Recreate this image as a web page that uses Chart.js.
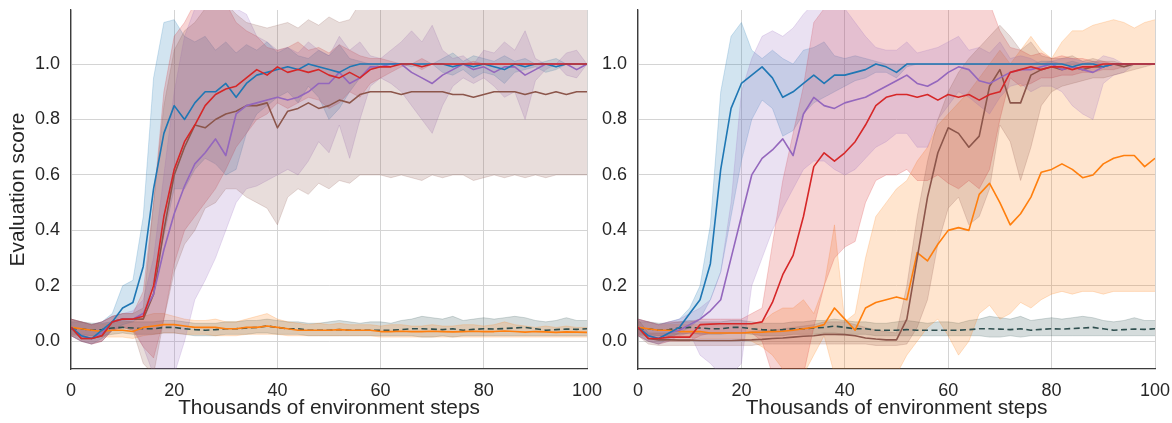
<!DOCTYPE html>
<html>
<head>
<meta charset="utf-8">
<script src="https://cdn.jsdelivr.net/npm/chart.js@4.4.1/dist/chart.umd.min.js"></script>
<style>
  body { margin: 0; background: #fff; width: 1172px; height: 423px; position: relative; overflow: hidden; }
  .panel { position: absolute; top: 0; height: 423px; }
  #left { left: 0; width: 612px; }
  #right { left: 590px; width: 582px; }
</style>
</head>
<body>
<div class="panel" id="left"><canvas id="chartLeft" width="612" height="423"></canvas></div>
<div class="panel" id="right"><canvas id="chartRight" width="582" height="423"></canvas></div>
<script>
// x positions (thousands of environment steps)
const STEPS = [
  0, 2, 4, 6, 8, 10, 12, 14, 16, 18,
  20, 22, 24, 26, 28, 30, 32, 34, 36, 38,
  40, 42, 44, 46, 48, 50, 52, 54, 56, 58,
  60, 62, 64, 66, 68, 70, 72, 74, 76, 78,
  80, 82, 84, 86, 88, 90, 92, 94, 96, 98,
  100];
const X_TICKS = [0, 20, 40, 60, 80, 100];
const Y_TICKS = [0.0, 0.2, 0.4, 0.6, 0.8, 1.0];

// dashed baseline, same in both panels
const BASE = [
  0.045,0.045,0.040,0.042,0.048,0.050,0.048,0.045,0.045,0.050,
  0.050,0.045,0.042,0.040,0.042,0.045,0.045,0.048,0.050,0.055,
  0.050,0.045,0.045,0.040,0.040,0.040,0.042,0.040,0.040,0.040,
  0.040,0.040,0.042,0.045,0.045,0.044,0.042,0.045,0.040,0.043,
  0.045,0.044,0.046,0.048,0.050,0.045,0.040,0.042,0.044,0.043,
  0.045];
const BASE_LO = [
  0.025,0.025,0.020,0.020,0.025,0.030,0.025,0.025,0.025,0.030,
  0.030,0.025,0.020,0.020,0.020,0.025,0.025,0.025,0.030,0.030,
  0.025,0.025,0.025,0.020,0.020,0.020,0.020,0.020,0.020,0.020,
  0.020,0.020,0.020,0.020,0.015,0.015,0.020,0.015,0.020,0.020,
  0.020,0.020,0.020,0.020,0.020,0.020,0.020,0.020,0.020,0.020,
  0.020];
const BASE_HI = [
  0.070,0.070,0.065,0.065,0.070,0.075,0.070,0.070,0.070,0.075,
  0.075,0.070,0.065,0.065,0.065,0.070,0.070,0.075,0.075,0.080,
  0.075,0.070,0.070,0.065,0.065,0.070,0.075,0.070,0.065,0.070,
  0.070,0.065,0.075,0.080,0.090,0.085,0.080,0.090,0.075,0.080,
  0.085,0.080,0.085,0.090,0.085,0.075,0.070,0.075,0.085,0.075,
  0.075];

// ---- left panel ----
const L_BLUE = [
  0.05,0.02,0.01,0.04,0.07,0.12,0.14,0.27,0.55,0.75,
  0.85,0.80,0.86,0.90,0.90,0.93,0.88,0.93,0.96,0.97,
  0.98,0.99,0.98,1.00,0.99,0.98,0.97,0.99,1.00,1.00,
  1.00,1.00,1.00,1.00,1.00,1.00,1.00,0.99,1.00,0.99,
  1.00,0.99,0.98,1.00,0.99,1.00,1.00,0.99,1.00,1.00,
  1.00];
const L_BLUE_LO = [
  0.02,0.00,-0.01,0.01,0.04,0.06,0.07,0.10,0.22,0.38,
  0.55,0.55,0.62,0.66,0.64,0.60,0.62,0.75,0.82,0.85,
  0.88,0.90,0.86,0.92,0.88,0.80,0.84,0.90,0.95,0.98,
  1.00,1.00,1.00,0.99,1.00,1.00,0.97,0.96,0.98,0.95,
  0.97,0.96,0.93,0.97,0.98,0.99,0.97,0.98,1.00,1.00,
  1.00];
const L_BLUE_HI = [
  0.08,0.07,0.06,0.07,0.10,0.20,0.22,0.45,0.95,1.15,
  1.16,1.10,1.08,1.10,1.05,1.08,1.04,1.07,1.05,1.08,
  1.04,1.06,1.03,1.02,1.05,1.03,1.07,1.02,1.01,1.00,
  1.00,1.00,1.00,1.00,1.00,1.00,1.02,1.04,1.01,1.03,
  1.02,1.01,1.03,1.01,1.02,1.00,1.01,1.02,1.00,1.00,
  1.00];

const L_RED = [
  0.05,0.01,0.01,0.02,0.07,0.08,0.08,0.09,0.20,0.45,
  0.62,0.72,0.78,0.85,0.89,0.91,0.92,0.95,0.98,0.96,
  0.99,0.97,0.98,0.97,0.98,0.96,0.95,0.97,0.95,0.98,
  0.99,0.99,1.00,1.00,0.99,1.00,1.00,1.00,1.00,1.00,
  1.00,1.00,1.00,1.00,1.00,1.00,1.00,1.00,1.00,1.00,
  1.00];
const L_RED_LO = [
  0.02,0.00,-0.01,0.00,0.04,0.05,0.04,-0.02,-0.06,0.08,
  0.28,0.40,0.45,0.50,0.55,0.62,0.70,0.75,0.80,0.82,
  0.86,0.84,0.86,0.88,0.87,0.84,0.86,0.90,0.88,0.93,
  0.95,0.97,0.99,1.00,0.98,1.00,1.00,1.00,1.00,1.00,
  1.00,1.00,1.00,1.00,1.00,1.00,1.00,1.00,1.00,1.00,
  1.00];
const L_RED_HI = [
  0.08,0.07,0.06,0.07,0.09,0.10,0.10,0.18,0.50,0.90,
  1.10,1.15,1.22,1.22,1.20,1.22,1.15,1.12,1.10,1.06,
  1.05,1.06,1.08,1.05,1.06,1.04,1.07,1.05,1.03,1.02,
  1.02,1.01,1.00,1.00,1.02,1.00,1.00,1.00,1.00,1.01,
  1.00,1.00,1.00,1.00,1.00,1.00,1.00,1.00,1.00,1.00,
  1.00];

const L_PURPLE = [
  0.05,0.02,0.01,0.03,0.07,0.08,0.08,0.10,0.17,0.33,
  0.46,0.56,0.64,0.68,0.73,0.67,0.82,0.85,0.86,0.87,
  0.88,0.87,0.88,0.90,0.93,0.93,0.97,0.93,0.95,0.99,
  0.99,1.00,1.00,0.97,0.95,0.93,0.96,0.98,1.00,0.98,
  0.99,0.97,0.99,0.99,0.96,0.98,1.00,1.00,1.00,0.98,
  1.00];
const L_PURPLE_LO = [
  0.02,0.00,-0.01,0.00,0.04,0.05,0.05,-0.02,-0.12,-0.15,
  -0.12,0.00,0.15,0.22,0.30,0.40,0.50,0.55,0.56,0.58,
  0.60,0.62,0.60,0.65,0.72,0.68,0.78,0.66,0.80,0.92,
  0.95,0.93,0.90,0.85,0.80,0.75,0.85,0.92,0.95,0.93,
  0.95,0.92,0.88,0.90,0.80,0.94,0.98,1.00,0.96,0.95,
  1.00];
const L_PURPLE_HI = [
  0.08,0.07,0.06,0.07,0.09,0.10,0.11,0.15,0.30,0.60,
  0.90,1.10,1.20,1.22,1.22,1.22,1.20,1.18,1.10,1.08,
  1.05,1.06,1.04,1.08,1.05,1.03,1.10,1.05,1.08,1.03,
  1.02,1.05,1.08,1.12,1.08,1.14,1.05,1.02,1.03,1.00,
  1.05,1.04,1.08,1.05,1.12,1.02,1.00,1.00,1.04,1.05,
  1.00];

const L_BROWN = [
  0.05,0.01,0.01,0.02,0.07,0.08,0.08,0.08,0.17,0.40,
  0.60,0.70,0.78,0.77,0.80,0.82,0.83,0.85,0.85,0.86,
  0.77,0.83,0.84,0.86,0.84,0.85,0.87,0.86,0.89,0.90,
  0.90,0.90,0.89,0.90,0.90,0.90,0.90,0.89,0.89,0.88,
  0.89,0.90,0.90,0.90,0.89,0.90,0.89,0.90,0.89,0.90,
  0.90];
const L_BROWN_LO = [
  0.02,0.00,-0.01,0.00,0.04,0.05,0.04,-0.08,-0.12,0.08,
  0.25,0.35,0.40,0.48,0.50,0.55,0.55,0.52,0.50,0.48,
  0.42,0.52,0.55,0.53,0.57,0.55,0.58,0.57,0.60,0.60,
  0.60,0.59,0.60,0.59,0.58,0.60,0.59,0.60,0.60,0.58,
  0.59,0.60,0.59,0.60,0.59,0.60,0.59,0.60,0.60,0.60,
  0.60];
const L_BROWN_HI = [
  0.08,0.07,0.06,0.07,0.09,0.10,0.10,0.12,0.50,0.85,
  1.05,1.12,1.15,1.20,1.22,1.22,1.18,1.15,1.14,1.13,
  1.14,1.15,1.13,1.16,1.14,1.17,1.15,1.16,1.22,1.25,
  1.25,1.25,1.25,1.25,1.25,1.25,1.25,1.25,1.25,1.25,
  1.25,1.25,1.25,1.25,1.25,1.25,1.25,1.25,1.25,1.25,
  1.25];

const L_ORANGE = [
  0.050,0.045,0.040,0.035,0.040,0.040,0.035,0.050,0.055,0.060,
  0.060,0.055,0.050,0.050,0.050,0.045,0.045,0.050,0.050,0.055,
  0.050,0.045,0.040,0.040,0.040,0.040,0.042,0.040,0.040,0.040,
  0.035,0.035,0.036,0.035,0.035,0.036,0.035,0.034,0.035,0.036,
  0.035,0.035,0.037,0.035,0.033,0.035,0.034,0.032,0.034,0.033,
  0.032];
const L_ORANGE_LO = [
  0.020,0.020,0.020,0.015,0.015,0.015,0.010,0.020,0.025,0.030,
  0.030,0.025,0.025,0.025,0.020,0.020,0.020,0.025,0.025,0.025,
  0.025,0.020,0.020,0.020,0.020,0.020,0.020,0.020,0.020,0.020,
  0.015,0.015,0.015,0.015,0.015,0.015,0.015,0.015,0.015,0.015,
  0.015,0.015,0.015,0.015,0.015,0.015,0.015,0.015,0.015,0.015,
  0.015];
const L_ORANGE_HI = [
  0.080,0.070,0.060,0.060,0.065,0.070,0.070,0.090,0.100,0.100,
  0.090,0.080,0.075,0.075,0.080,0.070,0.070,0.080,0.090,0.100,
  0.080,0.070,0.065,0.060,0.065,0.060,0.065,0.060,0.060,0.060,
  0.055,0.060,0.060,0.055,0.055,0.060,0.055,0.055,0.060,0.060,
  0.055,0.060,0.070,0.060,0.055,0.050,0.055,0.050,0.055,0.050,
  0.050];

// ---- right panel ----
const R_BLUE = [
  0.05,0.02,0.01,0.03,0.05,0.10,0.15,0.28,0.62,0.84,
  0.93,0.96,0.99,0.95,0.88,0.90,0.93,0.96,0.93,0.96,
  0.96,0.97,0.98,1.00,0.99,0.97,1.00,1.00,1.00,1.00,
  1.00,1.00,1.00,1.00,1.00,1.00,1.00,1.00,1.00,1.00,
  1.00,1.00,0.99,1.00,1.00,0.99,1.00,1.00,1.00,1.00,
  1.00];
const R_BLUE_LO = [
  0.02,0.00,-0.01,0.01,0.03,0.05,0.08,0.15,0.25,0.45,
  0.65,0.80,0.87,0.84,0.74,0.76,0.82,0.86,0.88,0.90,
  0.92,0.94,0.95,0.97,0.97,0.95,0.99,1.00,1.00,1.00,
  1.00,1.00,1.00,1.00,1.00,1.00,1.00,1.00,1.00,1.00,
  1.00,1.00,1.00,1.00,1.00,1.00,1.00,1.00,1.00,1.00,
  1.00];
const R_BLUE_HI = [
  0.08,0.07,0.06,0.07,0.08,0.12,0.20,0.42,0.90,1.10,
  1.15,1.05,1.02,1.05,1.02,1.00,1.05,1.06,1.08,1.03,
  1.02,1.03,1.02,1.01,1.00,1.00,1.00,1.00,1.00,1.00,
  1.00,1.00,1.00,1.00,1.00,1.00,1.00,1.00,1.00,1.01,
  1.01,1.00,1.01,1.00,1.01,1.00,1.00,1.00,1.00,1.00,
  1.00];

const R_PURPLE = [
  0.05,0.02,0.01,0.03,0.04,0.06,0.08,0.11,0.15,0.30,
  0.45,0.60,0.66,0.69,0.73,0.67,0.82,0.88,0.85,0.84,
  0.86,0.87,0.88,0.90,0.92,0.94,0.96,0.93,0.92,0.94,
  0.97,0.99,0.98,0.94,0.93,0.95,0.97,0.98,0.98,0.99,
  1.00,0.98,0.99,0.98,0.97,0.99,1.00,1.00,1.00,1.00,
  1.00];
const R_PURPLE_LO = [
  0.02,0.00,-0.01,0.00,0.02,0.03,-0.05,-0.08,-0.12,-0.12,
  -0.08,0.20,0.30,0.40,0.48,0.55,0.62,0.65,0.65,0.62,
  0.60,0.62,0.66,0.70,0.72,0.75,0.75,0.70,0.70,0.80,
  0.85,0.90,0.88,0.85,0.82,0.88,0.92,0.93,0.90,0.92,
  0.92,0.90,0.85,0.82,0.80,0.93,0.96,0.97,1.00,1.00,
  1.00];
const R_PURPLE_HI = [
  0.08,0.07,0.06,0.07,0.08,0.10,0.12,0.15,0.25,0.50,
  0.90,1.02,1.10,1.12,1.10,1.13,1.18,1.22,1.22,1.22,
  1.20,1.15,1.10,1.06,1.05,1.05,1.08,1.04,1.05,1.06,
  1.08,1.10,1.05,1.06,1.04,1.08,1.02,1.03,1.02,1.00,
  1.01,1.02,1.02,1.01,1.00,1.03,1.02,1.00,1.00,1.00,
  1.00];

const R_RED = [
  0.050,0.010,0.010,0.015,0.015,0.015,0.060,0.062,0.063,0.063,
  0.063,0.063,0.070,0.140,0.240,0.310,0.450,0.630,0.680,0.650,
  0.680,0.720,0.780,0.850,0.880,0.890,0.890,0.880,0.890,0.870,
  0.890,0.880,0.890,0.870,0.890,0.900,0.970,0.980,0.990,0.980,
  0.990,0.990,0.980,0.990,0.990,1.000,1.000,1.000,1.000,1.000,
  1.000];
const R_RED_LO = [
  0.02,0.00,-0.01,0.00,0.00,0.00,0.02,0.03,0.03,0.03,
  0.03,0.03,0.00,-0.12,-0.12,-0.12,-0.12,0.05,0.20,0.30,
  0.34,0.36,0.50,0.58,0.60,0.60,0.62,0.58,0.58,0.60,
  0.57,0.55,0.58,0.55,0.62,0.80,0.95,0.92,0.93,0.95,
  0.95,0.96,0.96,0.97,0.97,0.98,0.98,0.99,1.00,1.00,
  1.00];
const R_RED_HI = [
  0.08,0.07,0.06,0.07,0.07,0.07,0.08,0.08,0.08,0.08,
  0.08,0.10,0.12,0.35,0.58,0.75,0.92,1.15,1.20,1.20,
  1.20,1.20,1.22,1.22,1.22,1.22,1.22,1.22,1.22,1.22,
  1.22,1.22,1.22,1.22,1.22,1.12,1.06,1.05,1.03,1.04,
  1.02,1.03,1.02,1.02,1.01,1.01,1.00,1.00,1.00,1.00,
  1.00];

const R_BROWN = [
  0.050,0.010,0.005,0.005,0.004,0.004,0.003,0.003,0.003,0.003,
  0.004,0.005,0.007,0.010,0.012,0.015,0.018,0.020,0.025,0.025,
  0.024,0.020,0.012,0.008,0.005,0.005,0.080,0.300,0.520,0.680,
  0.770,0.750,0.700,0.740,0.920,0.980,0.860,0.860,0.960,0.980,
  0.990,0.980,0.990,0.980,0.990,0.990,1.000,0.990,1.000,1.000,
  1.000];
const R_BROWN_LO = [
  0.020,-0.010,-0.015,-0.015,-0.015,-0.015,-0.015,-0.015,-0.015,-0.015,
  -0.015,-0.015,-0.010,-0.010,-0.010,-0.010,-0.010,-0.010,-0.010,-0.010,
  -0.010,-0.010,-0.010,-0.015,-0.015,-0.015,-0.010,0.050,0.150,0.350,
  0.480,0.520,0.420,0.450,0.550,0.780,0.720,0.580,0.700,0.850,
  0.900,0.920,0.930,0.940,0.950,0.950,0.960,0.970,0.980,0.990,
  1.000];
const R_BROWN_HI = [
  0.080,0.030,0.030,0.030,0.030,0.030,0.030,0.030,0.030,0.030,
  0.030,0.035,0.040,0.040,0.045,0.050,0.055,0.060,0.070,0.070,
  0.070,0.060,0.050,0.040,0.035,0.030,0.200,0.450,0.650,0.800,
  0.900,0.970,1.020,1.060,1.100,1.140,1.100,1.050,1.080,1.030,
  1.020,1.020,1.030,1.010,1.020,1.010,1.010,1.000,1.000,1.000,
  1.000];

const R_ORANGE = [
  0.050,0.045,0.040,0.040,0.035,0.035,0.035,0.030,0.030,0.030,
  0.030,0.032,0.033,0.035,0.036,0.040,0.045,0.050,0.060,0.120,
  0.080,0.040,0.120,0.140,0.150,0.160,0.150,0.320,0.290,0.350,
  0.400,0.410,0.400,0.530,0.570,0.500,0.420,0.460,0.520,0.610,
  0.620,0.640,0.620,0.590,0.600,0.640,0.660,0.670,0.670,0.630,
  0.660];
const R_ORANGE_LO = [
  0.020,0.020,0.020,0.015,0.015,0.015,0.010,0.010,0.010,0.010,
  0.010,0.000,-0.020,-0.050,-0.100,-0.120,-0.120,-0.050,0.020,-0.120,
  -0.150,-0.150,-0.150,-0.150,-0.150,-0.120,-0.050,0.000,0.050,0.080,
  0.020,-0.050,0.000,0.100,0.130,0.080,0.100,0.140,0.120,0.150,
  0.170,0.180,0.170,0.180,0.180,0.170,0.180,0.180,0.180,0.180,
  0.180];
const R_ORANGE_HI = [
  0.080,0.070,0.060,0.060,0.060,0.060,0.060,0.060,0.060,0.060,
  0.060,0.060,0.070,0.100,0.120,0.120,0.150,0.100,0.200,0.420,
  0.070,0.100,0.300,0.450,0.500,0.550,0.580,0.650,0.700,0.780,
  0.820,0.860,0.900,0.950,1.000,1.050,1.000,1.050,1.100,1.050,
  1.020,1.080,1.120,1.120,1.140,1.150,1.160,1.150,1.130,1.150,
  1.160];

const TEXT = '#262626';
const GRID = '#d4d4d4';
const SPINE = '#3c3c3c';
Chart.defaults.font.family = '"Liberation Sans", Arial, sans-serif';
Chart.defaults.color = TEXT;

function pts(arr) {
  return STEPS.map((x, i) => ({ x: x, y: arr[i] }));
}

function band(lo, hi, rgb) {
  const c = 'rgba(' + rgb + ',0.2)';
  return [
    { data: pts(lo), borderColor: c, borderWidth: 1, pointRadius: 0, fill: false, order: 1 },
    { data: pts(hi), borderColor: c, borderWidth: 1, pointRadius: 0, fill: '-1', backgroundColor: c, order: 1 }
  ];
}

function line(mean, color, dashed) {
  return {
    data: pts(mean), borderColor: color, borderWidth: 1.6, pointRadius: 0,
    fill: false, order: 0, borderDash: dashed ? [6, 3.5] : [], borderJoinStyle: 'round'
  };
}

function makePanel(id, s, yTitle, yWidth, padRight) {
  const datasets = [].concat(
    band(s.brown[1], s.brown[2], '140,86,75'),
    band(s.purple[1], s.purple[2], '148,103,189'),
    band(s.red[1], s.red[2], '214,39,40'),
    band(s.blue[1], s.blue[2], '31,119,180'),
    band(s.orange[1], s.orange[2], '255,127,14'),
    band(BASE_LO, BASE_HI, '47,79,79'),
    [
      line(s.red[0], '#d62728'),
      line(s.blue[0], '#1f77b4'),
      line(s.purple[0], '#9467bd'),
      line(s.brown[0], '#8c564b'),
      line(s.orange[0], '#ff7f0e'),
      line(BASE, '#2f4f4f', true)
    ]
  );
  return new Chart(document.getElementById(id), {
    type: 'line',
    data: { datasets: datasets },
    options: {
      responsive: false,
      devicePixelRatio: 1,
      animation: false,
      layout: { padding: { top: 10, right: padRight, bottom: 0, left: 0 } },
      plugins: { legend: { display: false }, tooltip: { enabled: false } },
      elements: { line: { tension: 0 } },
      scales: {
        x: {
          type: 'linear', min: 0, max: 100,
          afterBuildTicks: sc => { sc.ticks = X_TICKS.map(v => ({ value: v })); },
          afterFit: sc => { sc.height = 54; sc.paddingLeft = 0; sc.paddingRight = 0; },
          grid: { color: GRID, lineWidth: 1, drawTicks: false },
          border: { display: true, color: SPINE, width: 1.3 },
          ticks: { font: { size: 18 }, padding: 11, maxRotation: 0, color: TEXT },
          title: { display: true, text: 'Thousands of environment steps', font: { size: 20.8 }, color: TEXT, padding: { top: 0, bottom: 2 } }
        },
        y: {
          min: -0.1, max: 1.195,
          afterBuildTicks: sc => { sc.ticks = Y_TICKS.map(v => ({ value: v })); },
          afterFit: sc => { sc.width = yWidth; sc.paddingTop = 0; sc.paddingBottom = 0; },
          grid: { color: GRID, lineWidth: 1, drawTicks: false },
          border: { display: true, color: SPINE, width: 1.3 },
          ticks: { font: { size: 18 }, padding: 11, color: TEXT, callback: v => v.toFixed(1) },
          title: { display: !!yTitle, text: yTitle || '', font: { size: 20.8 }, color: TEXT, padding: { top: 6, bottom: 0 } }
        }
      }
    }
  });
}

makePanel('chartLeft', {
  blue: [L_BLUE, L_BLUE_LO, L_BLUE_HI],
  red: [L_RED, L_RED_LO, L_RED_HI],
  purple: [L_PURPLE, L_PURPLE_LO, L_PURPLE_HI],
  brown: [L_BROWN, L_BROWN_LO, L_BROWN_HI],
  orange: [L_ORANGE, L_ORANGE_LO, L_ORANGE_HI]
}, 'Evaluation score', 71, 25);

makePanel('chartRight', {
  blue: [R_BLUE, R_BLUE_LO, R_BLUE_HI],
  red: [R_RED, R_RED_LO, R_RED_HI],
  purple: [R_PURPLE, R_PURPLE_LO, R_PURPLE_HI],
  brown: [R_BROWN, R_BROWN_LO, R_BROWN_HI],
  orange: [R_ORANGE, R_ORANGE_LO, R_ORANGE_HI]
}, null, 48, 17);
</script>
</body>
</html>
